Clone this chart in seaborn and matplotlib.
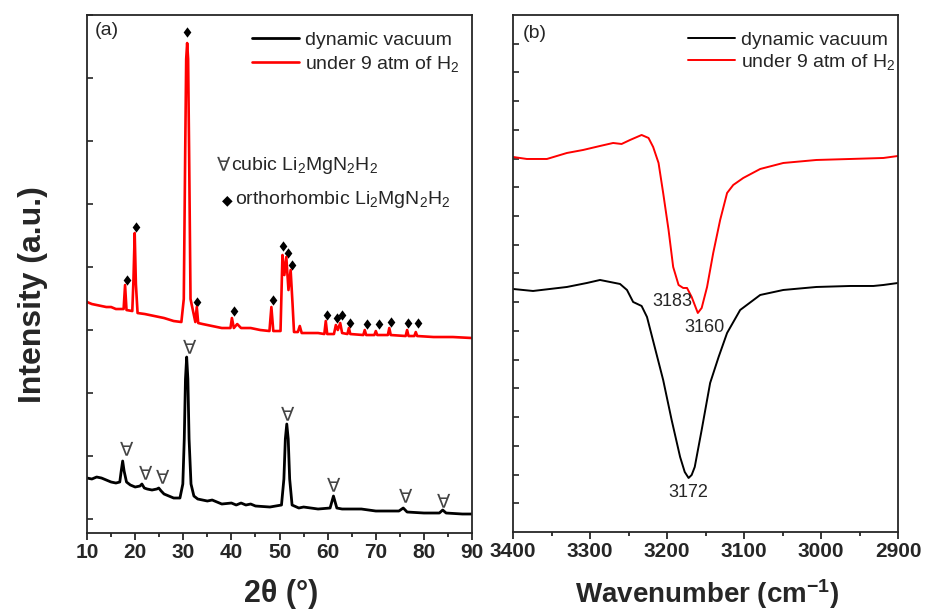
import numpy as np
import pandas as pd
import matplotlib
matplotlib.use("Agg")
import matplotlib.pyplot as plt
from matplotlib.ticker import MultipleLocator
import seaborn as sns

# ---------------- data: (a) XRD ----------------
vac_2theta = [10, 11, 12, 13, 14, 15, 16, 16.8, 17.1, 17.4, 17.7, 18.2, 19, 20, 21.0, 21.4, 21.9, 22.5,
              23.5, 24.5, 24.9, 25.4, 26, 27, 28, 29.3, 29.9, 30.2, 30.45, 30.7, 30.95, 31.2, 31.6, 32.2,
              33, 35, 36, 38, 40, 41, 42, 43, 44, 45, 48, 50.4, 50.9, 51.2, 51.5, 51.8, 52.1, 52.6,
              54, 55, 58, 60.5, 61.2, 61.9, 63, 65, 67, 70, 74.8, 75.7, 76.5, 80, 83.2, 83.9, 84.6,
              88, 90]
vac_int = [41, 40, 42, 41, 39, 37, 36, 37, 48, 58, 48, 37, 34, 32, 33, 35, 31, 30,
           29, 30, 31, 28, 25, 23, 21, 21, 35, 80, 140, 162, 140, 80, 35, 23,
           20, 18, 19, 15, 16, 14, 16, 14, 15, 13, 12, 14, 40, 80, 95, 80, 40, 14,
           11, 12, 10, 11, 23, 11, 10, 10, 10, 8, 8, 11, 7, 6, 6, 9, 6,
           5, 5]

h2_2theta = [10, 11, 12, 13, 14, 15, 16, 17, 17.6, 17.9, 18.2, 19.4, 19.65, 19.9, 20.15, 20.5, 22, 24,
             26, 28, 29.6, 30.1, 30.4, 30.6, 30.8, 31.0, 31.2, 31.5, 32.5, 32.8, 33.1, 34, 36, 38,
             39.8, 40.1, 40.5, 41.2, 42, 44, 46, 47.9, 48.3, 48.7, 50.2, 50.6, 51.0, 51.4, 51.85,
             52.3, 52.7, 53.0, 53.8, 54.2, 54.6, 56, 58, 59.3, 59.6, 59.9, 61.3, 61.7, 62.1, 62.6,
             63.0, 64.1, 64.4, 64.7, 67.4, 67.7, 68.0, 69.7, 70.0, 70.3, 72.5, 72.8, 73.1, 76.2,
             76.5, 76.8, 78.0, 78.3, 78.6, 82, 86, 90]
h2_int = [217, 215, 214, 213, 212, 212, 210, 210, 210, 234, 209, 208, 240, 286, 235, 206, 205, 203,
          201, 198, 197, 220, 370, 460, 476, 460, 370, 220, 197, 212, 196, 195, 193, 191,
          191, 201, 191, 195, 191, 191, 189, 188, 212, 188, 188, 264, 244, 262, 229,
          249, 215, 187, 187, 193, 186, 186, 186, 185, 198, 185, 185, 194, 189, 196,
          186, 185, 191, 185, 184, 189, 184, 184, 188, 184, 184, 191, 184, 183,
          189, 183, 183, 187, 183, 182, 182, 181]

cubic_x = [18.3, 22.1, 25.6, 31.3, 51.6, 61.3, 76.2, 84.0]
cubic_y = [69, 45, 41, 171, 104, 33, 22, 17]

ortho_x = [18.4, 20.2, 30.8, 32.8, 40.6, 48.7, 50.8, 51.7, 52.6, 59.9, 61.9, 62.9, 64.7, 68.1,
           70.6, 73.1, 76.6, 78.8]
ortho_y = [239, 292, 487, 217, 208, 219, 273, 266, 254, 204, 201, 204, 196, 195, 195, 197,
           196, 196]

# ---------------- data: (b) IR ----------------
ir_h2_wn = [3400, 3382, 3356, 3330, 3309, 3287, 3270, 3259, 3248, 3233, 3224, 3218, 3211, 3205,
            3198, 3192, 3185, 3179, 3174, 3168, 3160, 3155, 3148, 3140, 3131, 3122, 3114, 3101,
            3079, 3049, 3006, 2962, 2919, 2900]
ir_h2_int = [375, 373, 373, 379, 382, 386, 389, 388, 392, 397, 394, 385, 369, 339,
             302, 265, 247, 244, 244, 235, 219, 224, 245, 279, 312, 339, 347, 354,
             363, 369, 372, 373, 374, 376]

ir_vac_wn = [3400, 3374, 3330, 3304, 3287, 3261, 3252, 3244, 3233, 3226, 3216, 3205, 3194, 3183,
             3177, 3172, 3168, 3164, 3155, 3144, 3133, 3122, 3105, 3079, 3049, 3006, 2962, 2932,
             2919, 2900]
ir_vac_int = [243, 241, 245, 249, 252, 248, 242, 230, 226, 215, 185, 152, 112, 75,
              60, 54, 57, 65, 102, 149, 175, 199, 222, 237, 242, 245, 246, 246,
              247, 249]

ir_peak_wn = [3183, 3160, 3172]
ir_label_x = [3193.5, 3152, 3172.7]
ir_label_y = [230, 204, 39]

# ---------------- style ----------------
sns.set_style("ticks")
plt.rcParams["font.family"] = ["Liberation Sans", "DejaVu Sans"]
plt.rcParams["mathtext.fontset"] = "custom"
plt.rcParams["mathtext.rm"] = "Liberation Sans"
plt.rcParams["mathtext.default"] = "regular"
plt.rcParams["axes.linewidth"] = 1.3

fig = plt.figure(figsize=(9.26, 6.14), dpi=100)
axA = fig.add_axes([0.0940, 0.1319, 0.4158, 0.8436])
axB = fig.add_axes([0.5540, 0.1336, 0.4158, 0.8420])

df_vac = pd.DataFrame({"x": vac_2theta, "y": vac_int})
df_h2 = pd.DataFrame({"x": h2_2theta, "y": h2_int})
sns.lineplot(data=df_vac, x="x", y="y", ax=axA, color="black", lw=2.0,
             estimator=None, label="dynamic vacuum")
sns.lineplot(data=df_h2, x="x", y="y", ax=axA, color="#ff0000", lw=1.9,
             estimator=None, label="under 9 atm of H$_2$")

diamond = [(0, 1), (0.75, 0), (0, -1), (-0.75, 0)]
sns.scatterplot(x=ortho_x, y=ortho_y, ax=axA, marker=diamond, s=55, color="black",
                linewidth=0, legend=False)
for cx, cy in zip(cubic_x, cubic_y):
    axA.text(cx, cy, "\u2200", ha="center", va="center", fontsize=14, color="#444444",
             family="DejaVu Sans")

axA.text(0.338, 0.710, "\u2200", transform=axA.transAxes, ha="left", va="center",
         fontsize=14, color="#444444", family="DejaVu Sans")
axA.text(0.375, 0.710, "cubic Li$_2$MgN$_2$H$_2$", transform=axA.transAxes, ha="left",
         va="center", fontsize=14)
axA.text(0.350, 0.643, "\u25c6", transform=axA.transAxes, ha="left", va="center",
         fontsize=10, color="black", family="DejaVu Sans")
axA.text(0.385, 0.643, "orthorhombic Li$_2$MgN$_2$H$_2$", transform=axA.transAxes,
         ha="left", va="center", fontsize=14)
axA.text(0.021, 0.971, "(a)", transform=axA.transAxes, ha="left", va="center", fontsize=14)

axA.set_xlim(10, 90)
axA.set_ylim(-14, 504)
axA.xaxis.set_major_locator(MultipleLocator(10))
axA.xaxis.set_minor_locator(MultipleLocator(5))
axA.set_yticks(np.arange(0, 505, 63))
axA.set_xlabel("2\u03b8 (\u00b0)", fontsize=22, fontweight="bold", va="center")
axA.xaxis.set_label_coords(0.504, -0.118)
axA.set_ylabel("Intensity (a.u.)", fontsize=23, fontweight="bold", va="center")
axA.yaxis.set_label_coords(-0.140, 0.46)
axA.legend(loc="upper left", bbox_to_anchor=(0.4286, 0.968), frameon=False, fontsize=14,
           handlelength=2.4, handletextpad=0.3, labelspacing=0.22, borderpad=0,
           borderaxespad=0)

# (b)
df_irv = pd.DataFrame({"x": ir_vac_wn, "y": ir_vac_int})
df_irh = pd.DataFrame({"x": ir_h2_wn, "y": ir_h2_int})
sns.lineplot(data=df_irv, x="x", y="y", ax=axB, color="black", lw=1.4,
             estimator=None, label="dynamic vacuum")
sns.lineplot(data=df_irh, x="x", y="y", ax=axB, color="#ff0000", lw=1.4,
             estimator=None, label="under 9 atm of H$_2$")
for wn, lx, ly in zip(ir_peak_wn, ir_label_x, ir_label_y):
    axB.text(lx, ly, str(wn), ha="center", va="center", fontsize=13)
axB.text(0.026, 0.965, "(b)", transform=axB.transAxes, ha="left", va="center", fontsize=14)

axB.set_xlim(3400, 2900)
axB.set_ylim(0, 517)
axB.xaxis.set_major_locator(MultipleLocator(100))
axB.xaxis.set_minor_locator(MultipleLocator(50))
axB.set_yticks(np.arange(1, 18) * 28.72)
axB.set_xlabel("Wavenumber (cm$^{-1}$)", fontsize=20, fontweight="bold", va="center")
axB.xaxis.set_label_coords(0.504, -0.120)
axB.set_ylabel("")
axB.legend(loc="upper left", bbox_to_anchor=(0.4545, 0.968), frameon=False, fontsize=14,
           handlelength=2.4, handletextpad=0.3, labelspacing=0.15, borderpad=0,
           borderaxespad=0)

for ax in (axA, axB):
    ax.tick_params(axis="x", which="major", direction="out", length=5, width=1.3,
                   labelsize=15, pad=2, top=False)
    ax.tick_params(axis="x", which="minor", direction="out", length=3, width=1.3, top=False)
    ax.tick_params(axis="y", which="major", direction="in", length=4, width=1.2,
                   labelleft=False, right=False)
    for lab in ax.get_xticklabels():
        lab.set_fontweight("bold")
    for sp in ax.spines.values():
        sp.set_linewidth(1.3)
        sp.set_visible(True)

fig.savefig("out.png", dpi=100)
